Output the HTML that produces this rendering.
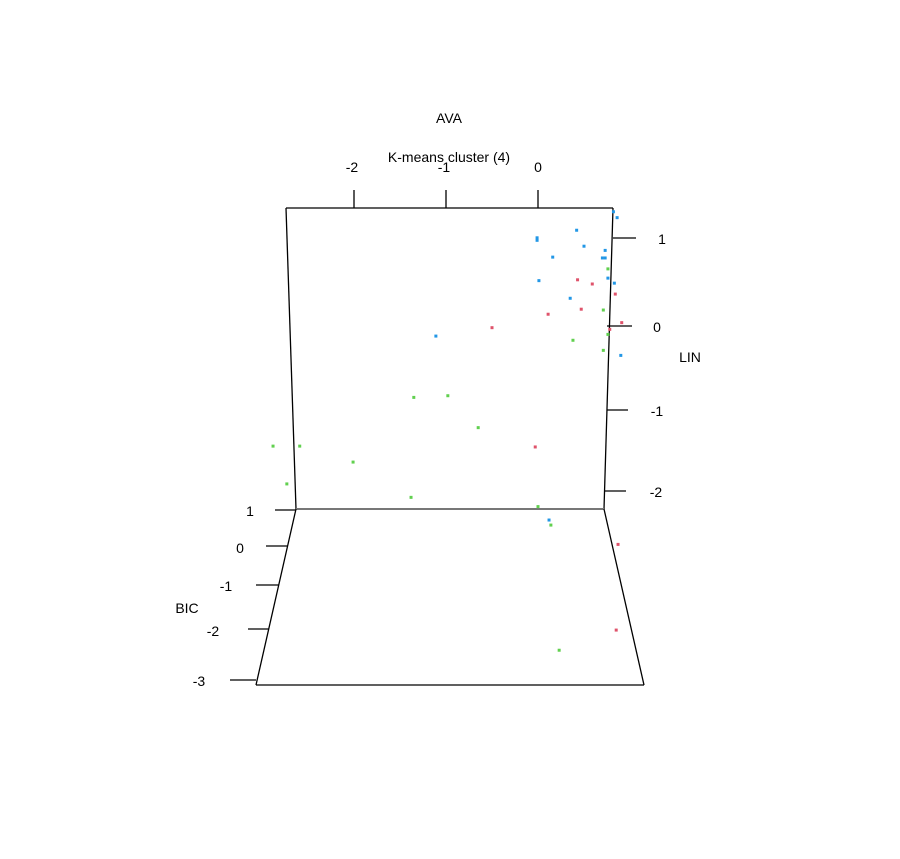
<!DOCTYPE html>
<html><head><meta charset="utf-8"><style>
body{margin:0;background:#fff}
svg text{font-family:"Liberation Sans",sans-serif;font-size:14px;fill:#000}
</style></head><body>
<svg id="chart" width="900" height="854">
<g stroke="#000" stroke-width="1.3" fill="none">
<line x1="286" y1="208" x2="613" y2="208"/>
<line x1="286" y1="208" x2="296" y2="509"/>
<line x1="613" y1="208" x2="604" y2="509"/>
<line x1="296" y1="509" x2="604" y2="509" stroke="#777" stroke-width="2"/>
<line x1="296" y1="509" x2="256" y2="685"/>
<line x1="604" y1="509" x2="644" y2="685"/>
<line x1="256" y1="685" x2="644" y2="685"/>
<line x1="354" y1="208" x2="354" y2="190"/><line x1="446" y1="208" x2="446" y2="190"/><line x1="538" y1="208" x2="538" y2="190"/>
<line x1="613" y1="238" x2="636" y2="238"/><line x1="607" y1="326" x2="632" y2="326"/><line x1="607" y1="410" x2="628" y2="410"/><line x1="604" y1="491" x2="626" y2="491"/>
<line x1="296" y1="510" x2="275" y2="510"/><line x1="288" y1="546" x2="266" y2="546"/><line x1="279" y1="585" x2="256" y2="585"/><line x1="269" y1="629" x2="248" y2="629"/><line x1="256" y1="680" x2="230" y2="680"/>
</g>
<g>
<text x="449" y="123" text-anchor="middle">AVA</text>
<text x="449" y="162" text-anchor="middle">K-means cluster (4)</text>
<text x="352" y="172" text-anchor="middle">-2</text><text x="444" y="172" text-anchor="middle">-1</text><text x="538" y="172" text-anchor="middle">0</text>
<text x="662" y="244" text-anchor="middle">1</text><text x="657" y="332" text-anchor="middle">0</text><text x="657" y="416" text-anchor="middle">-1</text><text x="656" y="497" text-anchor="middle">-2</text>
<text x="690" y="362" text-anchor="middle">LIN</text>
<text x="250" y="516" text-anchor="middle">1</text><text x="240" y="553" text-anchor="middle">0</text><text x="226" y="591" text-anchor="middle">-1</text><text x="213" y="636" text-anchor="middle">-2</text><text x="199" y="686" text-anchor="middle">-3</text>
<text x="187" y="613" text-anchor="middle">BIC</text>
</g>
<g id="pts"></g>
</svg>
<script>
// projected AVA (horizontal) and LIN (vertical) coordinates per cluster
const blueAva=[0.82,0.86,0.42,-0.01,-0.01,0.50,0.73,0.16,0.70,0.73,0.76,0.01,0.83,0.35,0.90,-1.11,0.12];
const blueLin=[1.36,1.29,1.14,1.02,1.05,0.95,0.90,0.82,0.81,0.81,0.57,0.54,0.51,0.33,-0.35,-0.12,-2.31];
const redAva=[0.43,0.59,0.84,0.11,0.47,-0.50,0.91,0.78,-0.03,0.87,0.85];
const redLin=[0.55,0.50,0.38,0.14,0.20,-0.02,0.04,-0.04,-1.44,-2.60,-3.62];
const greenAva=[0.76,0.71,0.38,0.76,0.71,-1.35,-0.98,-0.65,-2.88,-2.59,-2.01,-2.73,-1.38,0.00,0.14,0.23];
const greenLin=[0.68,0.19,-0.17,-0.10,-0.29,-0.85,-0.83,-1.21,-1.43,-1.43,-1.62,-1.88,-2.04,-2.15,-2.37,-3.86];
const xS=v=>538+v*92, yS=v=>326-v*84;
const g=document.getElementById('pts');
function draw(a,l,c,name){a.forEach((v,i)=>{const r=document.createElementNS('http://www.w3.org/2000/svg','rect');
r.setAttribute('x',xS(v)-1.5);r.setAttribute('y',yS(l[i])-1.5);r.setAttribute('width',3);r.setAttribute('height',3);r.setAttribute('fill',c);


g.appendChild(r);});}
draw(blueAva,blueLin,'#2297E6','point-cluster-blue');
draw(redAva,redLin,'#DF536B','point-cluster-red');
draw(greenAva,greenLin,'#61D04F','point-cluster-green');
</script>
</body></html>
